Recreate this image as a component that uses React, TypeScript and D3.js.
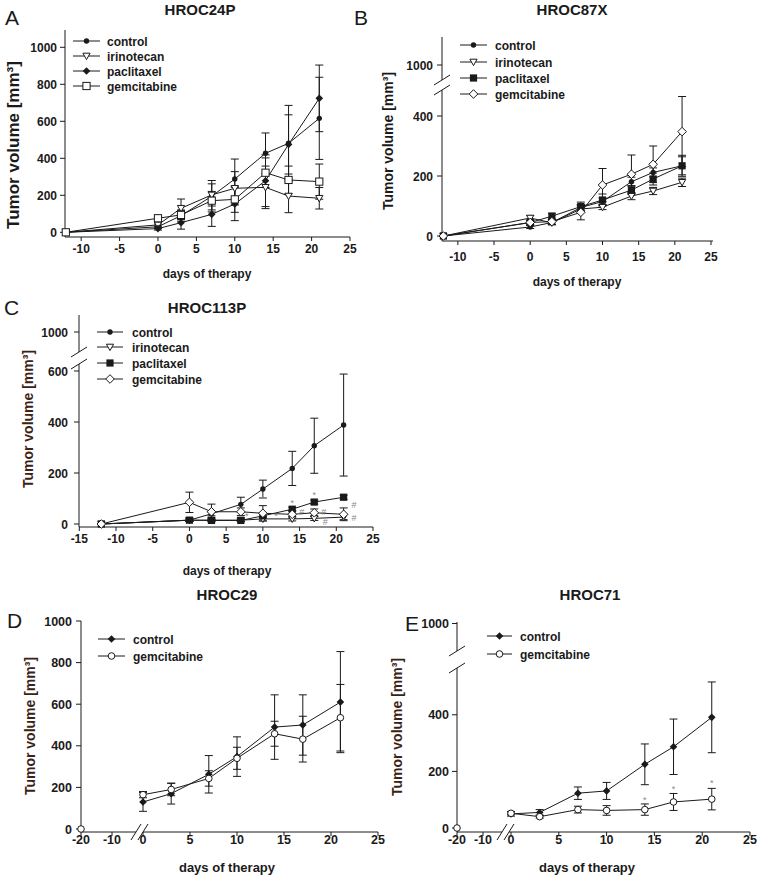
import React from 'react';
import * as d3 from 'd3';

// ---------- shared ----------
const days = [-12, 0, 3, 7, 10, 14, 17, 21];
const daysLate = [0, 3, 7, 10, 14, 17, 21];
const xTicksAB = [-10, -5, 0, 5, 10, 15, 20, 25];
const xTicksC = [-15, -10, -5, 0, 5, 10, 15, 20, 25];
const xTicksDE = [-20, -10, 0, 5, 10, 15, 20, 25];
const yTicksA = [0, 200, 400, 600, 800, 1000];
const yTicksB = [0, 200, 400, 1000];
const yTicksC = [0, 200, 400, 600, 1000];
const yTicksD = [0, 200, 400, 600, 800, 1000];
const yTicksE = [0, 200, 400, 1000];

// ---------- A: HROC24P ----------
const aControl = [0, 30, 90, 195, 288, 427, 481, 616];
const aControlErr = [0, 10, 30, 85, 108, 110, 205, 222];
const aIrinotecan = [0, 40, 130, 202, 238, 243, 196, 184];
const aIrinotecanErr = [0, 10, 50, 60, 90, 115, 90, 58];
const aPaclitaxel = [0, 20, 52, 97, 153, 279, 475, 724];
const aPaclitaxelErr = [0, 8, 35, 65, 90, 140, 160, 180];
const aGemcitabine = [0, 76, 94, 171, 178, 322, 283, 274];
const aGemcitabineErr = [0, 10, 25, 50, 70, 80, 75, 95];

// ---------- B: HROC87X ----------
const bControl = [0, 30, 45, 95, 115, 181, 212, 234];
const bControlErr = [0, 5, 8, 10, 12, 15, 15, 35];
const bIrinotecan = [0, 60, 44, 90, 96, 133, 150, 179];
const bIrinotecanErr = [0, 8, 6, 12, 8, 12, 12, 14];
const bPaclitaxel = [0, 45, 66, 98, 120, 153, 190, 234];
const bPaclitaxelErr = [0, 6, 10, 15, 20, 15, 20, 30];
const bGemcitabine = [0, 45, 48, 79, 170, 206, 239, 348];
const bGemcitabineErr = [0, 8, 8, 25, 55, 64, 61, 117];

// ---------- C: HROC113P ----------
const cControl = [0, 15, 40, 77, 137, 218, 307, 388];
const cControlErr = [0, 5, 8, 28, 35, 67, 108, 200];
const cIrinotecan = [0, 15, 15, 15, 20, 20, 22, 27];
const cIrinotecanErr = [0, 5, 5, 5, 8, 8, 8, 10];
const cPaclitaxel = [0, 15, 14, 14, 32, 58, 86, 105];
const cPaclitaxelErr = [0, 5, 5, 5, 8, 8, 8, 8];
const cGemcitabine = [0, 85, 48, 48, 42, 38, 44, 38];
const cGemcitabineErr = [0, 40, 30, 15, 30, 15, 15, 25];
const cMarks: [number, number, string][] = [
  [7.8, 30, '*'], [10, 100, '*'], [11.8, 30, '*'],
  [14, 82, '*'], [15.3, 46, '#'], [17, 112, '*'], [18.3, 48, '#'],
  [18.5, 8, '#'], [22.4, 76, '#'], [22.4, 22, '#'],
];

// ---------- D: HROC29 ----------
const dControl = [130, 170, 263, 348, 490, 500, 610];
const dControlErr = [45, 50, 90, 95, 155, 145, 243];
const dGemcitabine = [165, 190, 243, 340, 458, 432, 535];
const dGemcitabineErr = [15, 30, 37, 53, 60, 110, 160];
const dStartDay = [-20];
const dStartValue = [0];

// ---------- E: HROC71 ----------
const eControl = [50, 55, 123, 131, 225, 287, 391];
const eControlErr = [8, 10, 22, 30, 72, 98, 125];
const eGemcitabine = [52, 40, 65, 62, 65, 92, 102];
const eGemcitabineErr = [5, 5, 12, 17, 20, 30, 38];
const eStartDay = [-20];
const eStartValue = [0];
const eMarks: [number, number, string][] = [[14, 100, '*'], [17, 138, '*'], [21, 158, '*']];

const FONT = '"Liberation Sans", Arial, Helvetica, sans-serif';
const INK = '#1a1a1a';

type Series = { name: string; x: number[]; v: number[]; e: number[]; m: string };

function Marker({ t, x, y }: { t: string; x: number; y: number }) {
  switch (t) {
    case 'dot':
      return <circle cx={x} cy={y} r={2.7} fill={INK} />;
    case 'fdia':
      return <path d={`M${x},${y - 3.8}L${x + 3.8},${y}L${x},${y + 3.8}L${x - 3.8},${y}Z`} fill={INK} />;
    case 'tri':
      return <path d={`M${x - 3.6},${y - 2.8}L${x + 3.6},${y - 2.8}L${x},${y + 3.6}Z`} fill="#fff" stroke={INK} strokeWidth={1} />;
    case 'sq':
      return <rect x={x - 3.6} y={y - 3.6} width={7.2} height={7.2} fill={INK} />;
    case 'osq':
      return <rect x={x - 3.6} y={y - 3.6} width={7.2} height={7.2} fill="#fff" stroke={INK} strokeWidth={1} />;
    case 'dia':
      return <path d={`M${x},${y - 4.3}L${x + 4.3},${y}L${x},${y + 4.3}L${x - 4.3},${y}Z`} fill="#fff" stroke={INK} strokeWidth={1} />;
    case 'ocirc':
      return <circle cx={x} cy={y} r={3.3} fill="#fff" stroke={INK} strokeWidth={1} />;
    default:
      return null;
  }
}

type PanelProps = {
  xs: any; ys: any;
  x0: number; xAxisY: number; yTop: number; xEnd: number;
  yGap?: [number, number]; xGap?: [number, number];
  xTicks: number[]; yTicks: number[];
  yTickX: number; xTickY: number; tickSize: number;
  ylabel: { x: number; y: number; size: number; color: string };
  xlabel: { x: number; y: number; size: number };
  title: { x: number; y: number; text: string };
  letter: { x: number; y: number; text: string };
  legend: { x1: number; x2: number; tx: number; ys: number[] };
  series: Series[];
  isolated?: { x: number[]; v: number[]; m: string };
  marks?: [number, number, string][];
};

function Panel(p: PanelProps) {
  const { xs, ys } = p;
  const line = d3.line<[number, number]>().x(d => xs(d[0])).y(d => ys(d[1]));
  const ax = p.x0;
  const yAxisSegs: [number, number][] = p.yGap
    ? [[p.xAxisY, p.yGap[0]], [p.yGap[1], p.yTop]]
    : [[p.xAxisY, p.yTop]];
  const xAxisSegs: [number, number][] = p.xGap
    ? [[p.x0, p.xGap[0]], [p.xGap[1], p.xEnd]]
    : [[p.x0, p.xEnd]];
  return (
    <g fontFamily={FONT}>
      {yAxisSegs.map((s, i) => (
        <line key={'ya' + i} x1={ax} x2={ax} y1={s[0]} y2={s[1]} stroke={INK} strokeWidth={1} />
      ))}
      {xAxisSegs.map((s, i) => (
        <line key={'xa' + i} x1={s[0]} x2={s[1]} y1={p.xAxisY} y2={p.xAxisY} stroke={INK} strokeWidth={1} />
      ))}
      {p.yGap && [p.yGap[0], p.yGap[1]].map((yy, i) => (
        <line key={'yb' + i} x1={ax - 8} y1={yy + 5} x2={ax + 8} y2={yy - 5} stroke={INK} strokeWidth={1} />
      ))}
      {p.xGap && [p.xGap[0], p.xGap[1]].map((xx, i) => (
        <line key={'xb' + i} x1={xx - 5} y1={p.xAxisY + 8} x2={xx + 5} y2={p.xAxisY - 8} stroke={INK} strokeWidth={1} />
      ))}
      {p.yTicks.map(t => (
        <g key={'yt' + t}>
          <line x1={ax - 5} x2={ax} y1={ys(t)} y2={ys(t)} stroke={INK} />
          <text x={p.yTickX} y={ys(t) + 4.5} textAnchor="end" fontSize={p.tickSize} fontWeight="bold" fill={INK}>{t}</text>
        </g>
      ))}
      {p.xTicks.map(t => (
        <g key={'xt' + t}>
          <line x1={xs(t)} x2={xs(t)} y1={p.xAxisY} y2={p.xAxisY + 4} stroke={INK} />
          <text x={xs(t)} y={p.xTickY} textAnchor="middle" fontSize={p.tickSize} fontWeight="bold" fill={INK}>{t}</text>
        </g>
      ))}
      <text transform={`translate(${p.ylabel.x},${p.ylabel.y}) rotate(-90)`} textAnchor="middle" dominantBaseline="central"
        fontSize={p.ylabel.size} fontWeight="bold" fill={p.ylabel.color}>Tumor volume [mm³]</text>
      <text x={p.xlabel.x} y={p.xlabel.y} textAnchor="middle" fontSize={p.xlabel.size} fontWeight="bold" fill={INK}>days of therapy</text>
      <text x={p.title.x} y={p.title.y} textAnchor="middle" fontSize={15} fontWeight="bold" fill={INK}>{p.title.text}</text>
      <text x={p.letter.x} y={p.letter.y} fontSize={21} fill={INK}>{p.letter.text}</text>
      {p.series.map(s => (
        <path key={'l' + s.name} d={line(s.x.map((d, i) => [d, s.v[i]] as [number, number])) || ''} fill="none" stroke={INK} strokeWidth={1} />
      ))}
      {p.series.map(s => s.x.map((d, i) => s.e[i] > 0 ? (
        <g key={'e' + s.name + i} stroke={INK} strokeWidth={1}>
          <line x1={xs(d)} x2={xs(d)} y1={ys(s.v[i] - s.e[i])} y2={ys(s.v[i] + s.e[i])} />
          <line x1={xs(d) - 4} x2={xs(d) + 4} y1={ys(s.v[i] + s.e[i])} y2={ys(s.v[i] + s.e[i])} />
          <line x1={xs(d) - 4} x2={xs(d) + 4} y1={ys(s.v[i] - s.e[i])} y2={ys(s.v[i] - s.e[i])} />
        </g>
      ) : null))}
      {p.series.map(s => s.x.map((d, i) => (
        <Marker key={'m' + s.name + i} t={s.m} x={xs(d)} y={ys(s.v[i])} />
      )))}
      {p.isolated && p.isolated.x.map((d, i) => (
        <Marker key={'iso' + i} t={p.isolated!.m} x={xs(d)} y={ys(p.isolated!.v[i])} />
      ))}
      {p.marks && p.marks.map((m, i) => (
        <text key={'mk' + i} x={xs(m[0])} y={ys(m[1]) + 3} textAnchor="middle" fontSize={9} fill="#8a8a8a">{m[2]}</text>
      ))}
      {p.series.map((s, i) => (
        <g key={'lg' + s.name}>
          <line x1={p.legend.x1} x2={p.legend.x2} y1={p.legend.ys[i]} y2={p.legend.ys[i]} stroke={INK} strokeWidth={1} />
          <Marker t={s.m} x={(p.legend.x1 + p.legend.x2) / 2} y={p.legend.ys[i]} />
          <text x={p.legend.tx} y={p.legend.ys[i] + 4.5} fontSize={12} fontWeight="bold" fill={INK}>{s.name}</text>
        </g>
      ))}
    </g>
  );
}

export default function App() {
  const panelA = (
    <Panel
      xs={d3.scaleLinear().domain([-12, 25]).range([65.8, 350])}
      ys={d3.scaleLinear().domain([0, 1000]).range([232.3, 47.3])}
      x0={65} xAxisY={237} yTop={30} xEnd={350}
      xTicks={xTicksAB} yTicks={yTicksA} yTickX={57} xTickY={253} tickSize={12}
      ylabel={{ x: 13, y: 145, size: 17, color: INK }}
      xlabel={{ x: 207, y: 278, size: 12 }}
      title={{ x: 200, y: 15, text: 'HROC24P' }}
      letter={{ x: 5, y: 25, text: 'A' }}
      legend={{ x1: 73, x2: 100, tx: 107, ys: [41, 56, 71, 86] }}
      series={[
        { name: 'control', x: days, v: aControl, e: aControlErr, m: 'dot' },
        { name: 'irinotecan', x: days, v: aIrinotecan, e: aIrinotecanErr, m: 'tri' },
        { name: 'paclitaxel', x: days, v: aPaclitaxel, e: aPaclitaxelErr, m: 'fdia' },
        { name: 'gemcitabine', x: days, v: aGemcitabine, e: aGemcitabineErr, m: 'osq' },
      ]}
    />
  );
  const panelB = (
    <Panel
      xs={d3.scaleLinear().domain([-12, 25]).range([443.4, 711])}
      ys={d3.scaleLinear().domain([0, 505, 940, 1100]).range([236, 84.5, 83, 35])}
      x0={442} xAxisY={241} yTop={37} xEnd={713} yGap={[90, 80]}
      xTicks={xTicksAB} yTicks={yTicksB} yTickX={433} xTickY={261} tickSize={12}
      ylabel={{ x: 388, y: 141, size: 14, color: INK }}
      xlabel={{ x: 577, y: 286, size: 12 }}
      title={{ x: 572, y: 15, text: 'HROC87X' }}
      letter={{ x: 354, y: 25, text: 'B' }}
      legend={{ x1: 460, x2: 487, tx: 495, ys: [45, 62, 78, 94] }}
      series={[
        { name: 'control', x: days, v: bControl, e: bControlErr, m: 'dot' },
        { name: 'irinotecan', x: days, v: bIrinotecan, e: bIrinotecanErr, m: 'tri' },
        { name: 'paclitaxel', x: days, v: bPaclitaxel, e: bPaclitaxelErr, m: 'sq' },
        { name: 'gemcitabine', x: days, v: bGemcitabine, e: bGemcitabineErr, m: 'dia' },
      ]}
    />
  );
  const panelC = (
    <Panel
      xs={d3.scaleLinear().domain([-15, 25]).range([79.3, 373])}
      ys={d3.scaleLinear().domain([0, 640, 940, 1100]).range([524, 360.8, 347.3, 306.5])}
      x0={79} xAxisY={527} yTop={315} xEnd={373} yGap={[364, 352]}
      xTicks={xTicksC} yTicks={yTicksC} yTickX={68} xTickY={543} tickSize={12}
      ylabel={{ x: 28, y: 419, size: 14, color: '#3a2216' }}
      xlabel={{ x: 227, y: 575, size: 12 }}
      title={{ x: 207, y: 313, text: 'HROC113P' }}
      letter={{ x: 4, y: 315, text: 'C' }}
      legend={{ x1: 97, x2: 123, tx: 132, ys: [332, 347, 363, 379] }}
      series={[
        { name: 'control', x: days, v: cControl, e: cControlErr, m: 'dot' },
        { name: 'irinotecan', x: days, v: cIrinotecan, e: cIrinotecanErr, m: 'tri' },
        { name: 'paclitaxel', x: days, v: cPaclitaxel, e: cPaclitaxelErr, m: 'sq' },
        { name: 'gemcitabine', x: days, v: cGemcitabine, e: cGemcitabineErr, m: 'dia' },
      ]}
      marks={cMarks}
    />
  );
  const panelD = (
    <Panel
      xs={d3.scaleLinear().domain([-20, 0, 25]).range([81, 143, 378])}
      ys={d3.scaleLinear().domain([0, 1000]).range([829, 621])}
      x0={81} xAxisY={832} yTop={621} xEnd={378} xGap={[136, 143]}
      xTicks={xTicksDE} yTicks={yTicksD} yTickX={72} xTickY={844} tickSize={12.5}
      ylabel={{ x: 30, y: 726, size: 14, color: '#3a2216' }}
      xlabel={{ x: 227, y: 872, size: 13 }}
      title={{ x: 227, y: 600, text: 'HROC29' }}
      letter={{ x: 7, y: 628, text: 'D' }}
      legend={{ x1: 98, x2: 125, tx: 133, ys: [639, 656] }}
      series={[
        { name: 'control', x: daysLate, v: dControl, e: dControlErr, m: 'fdia' },
        { name: 'gemcitabine', x: daysLate, v: dGemcitabine, e: dGemcitabineErr, m: 'ocirc' },
      ]}
      isolated={{ x: dStartDay, v: dStartValue, m: 'ocirc' }}
    />
  );
  const panelE = (
    <Panel
      xs={d3.scaleLinear().domain([-20, -10, 0, 25]).range([457, 483, 511, 750])}
      ys={d3.scaleLinear().domain([0, 560, 920, 1005]).range([828, 669.5, 648, 622])}
      x0={457} xAxisY={832} yTop={622} xEnd={750} yGap={[668, 651]} xGap={[502, 509]}
      xTicks={xTicksDE} yTicks={yTicksE} yTickX={449} xTickY={844} tickSize={12.5}
      ylabel={{ x: 397, y: 727, size: 14, color: '#3a2216' }}
      xlabel={{ x: 587, y: 872, size: 13 }}
      title={{ x: 590, y: 600, text: 'HROC71' }}
      letter={{ x: 405, y: 631, text: 'E' }}
      legend={{ x1: 487, x2: 512, tx: 520, ys: [636, 654] }}
      series={[
        { name: 'control', x: daysLate, v: eControl, e: eControlErr, m: 'fdia' },
        { name: 'gemcitabine', x: daysLate, v: eGemcitabine, e: eGemcitabineErr, m: 'ocirc' },
      ]}
      isolated={{ x: eStartDay, v: eStartValue, m: 'ocirc' }}
      marks={eMarks}
    />
  );
  return (
    <svg width={763} height={887} style={{ position: 'absolute', left: 0, top: 0, background: '#fff' }}>
      <rect width={763} height={887} fill="#fff" />
      {panelA}
      {panelB}
      {panelC}
      {panelD}
      {panelE}
    </svg>
  );
}
